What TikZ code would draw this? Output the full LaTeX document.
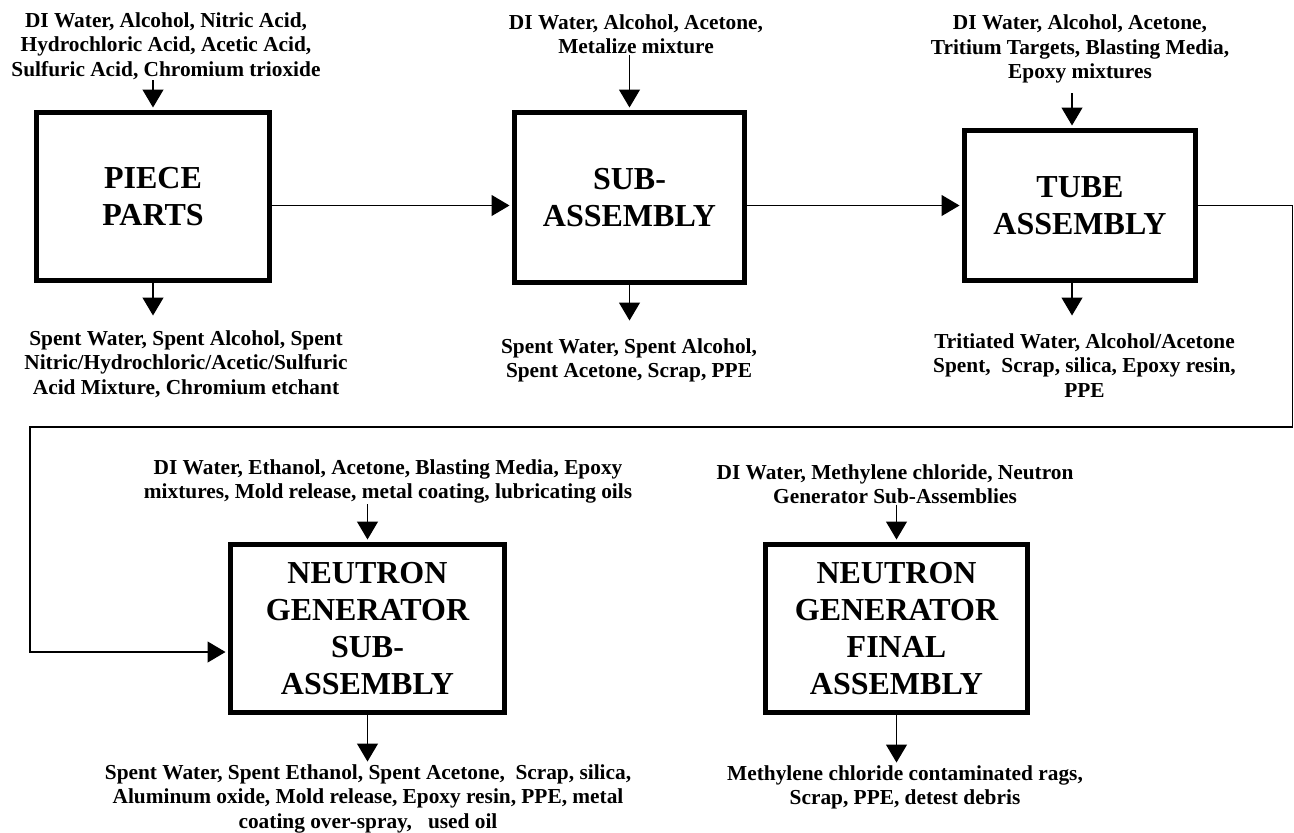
\documentclass[tikz,border=0pt]{standalone}
\usepackage{fontspec}
\setmainfont{Liberation Serif}
\usetikzlibrary{positioning,arrows.meta}

\begin{document}
\begin{tikzpicture}[x=0.5pt,y=-0.5pt,
    stage/.style={draw,line width=2.5pt,inner sep=0pt,align=center,
      font=\fontsize{16}{18.4}\selectfont\bfseries},
    items/.style={inner sep=0pt,align=center,anchor=north,
      font=\fontsize{10.67}{12.35}\selectfont\bfseries},
    flow/.style={line width=0.6pt,-{Triangle[length=9pt,width=10.5pt]},shorten >=1.25pt}]
        \useasboundingbox (0,0) rectangle (1294,832);
        \node[stage,minimum width=116.5pt,minimum height=84pt] (piece) at (153,196.5) {PIECE\\PARTS};
        \node[stage,minimum width=115pt,minimum height=85pt] (sub) at (629.5,197.5) {SUB-\\ASSEMBLY};
        \node[stage,minimum width=115.5pt,minimum height=75pt] (tube) at (1080,205.5) {TUBE\\ASSEMBLY};
        \node[stage,minimum width=137pt,minimum height=84pt] (ngsub) at (367.5,628.5) {NEUTRON\\GENERATOR\\SUB-\\ASSEMBLY};
        \node[stage,minimum width=131pt,minimum height=84pt] (ngfin) at (896.5,628.5) {NEUTRON\\GENERATOR\\FINAL\\ASSEMBLY};

        \node[items] (pin) at (166,12) {DI Water, Alcohol, Nitric Acid,\\Hydrochloric Acid, Acetic Acid,\\Sulfuric Acid, Chromium trioxide};
        \node[items] (pout) at (186,330) {Spent Water, Spent Alcohol, Spent\\Nitric/Hydrochloric/Acetic/Sulfuric\\Acid Mixture, Chromium etchant};
        \node[items] (sin) at (636,14) {DI Water, Alcohol, Acetone,\\Metalize mixture};
        \node[items] (sout) at (629,338) {Spent Water, Spent Alcohol,\\Spent Acetone, Scrap, PPE};
        \node[items] (tin) at (1080,14.3) {DI Water, Alcohol, Acetone,\\Tritium Targets, Blasting Media,\\Epoxy mixtures};
        \node[items] (tout) at (1084.5,333) {Tritiated Water, Alcohol/Acetone\\Spent,\ \ Scrap, silica, Epoxy resin,\\PPE};
        \node[items] (nin) at (388,459) {DI Water, Ethanol, Acetone, Blasting Media, Epoxy\\mixtures, Mold release, metal coating, lubricating oils};
        \node[items] (nout) at (368,764) {Spent Water, Spent Ethanol, Spent Acetone,\ \ Scrap, silica,\\Aluminum oxide, Mold release, Epoxy resin, PPE, metal\\coating over-spray,\ \ \ used oil};
        \node[items] (fin) at (895,464) {DI Water, Methylene chloride, Neutron\\Generator Sub-Assemblies};
        \node[items] (fout) at (905,765) {Methylene chloride contaminated rags,\\Scrap, PPE, detest debris};

        \coordinate (tsrc) at (1072,93);
        \coordinate (tdst) at (1072,318);
        \coordinate (fbr) at (1292.5,427);
        \coordinate (fbl) at (30,427);
        \coordinate (fbin) at (30,652);

        \draw[flow] (pin.south -| piece.north) -- (piece.north);
        \draw[flow] (piece.south) -- ([yshift=6pt]pout.north -| piece.south);
        \draw[flow] (sin.south -| sub.north) -- (sub.north);
        \draw[flow] (sub.south) -- ([yshift=7.5pt]sout.north -| sub.south);
        \draw[flow] (tsrc) -- (tsrc |- tube.north);
        \draw[flow] (tdst |- tube.south) -- (tdst);
        \draw[flow] (nin.south -| ngsub.north) -- (ngsub.north);
        \draw[flow] (ngsub.south) -- (nout.north -| ngsub.south);
        \draw[flow] (fin.south -| ngfin.north) -- (ngfin.north);
        \draw[flow] (ngfin.south) -- (fout.north -| ngfin.south);

        \draw[flow] (piece.east |- tube.west) -- (sub.west |- tube.west);
        \draw[flow] (sub.east |- tube.west) -- (tube.west);
        \draw[flow] (tube.east) -| (fbr) -- (fbl) -- (fbin) -- (fbin -| ngsub.west);
      \end{tikzpicture}
\end{document}
